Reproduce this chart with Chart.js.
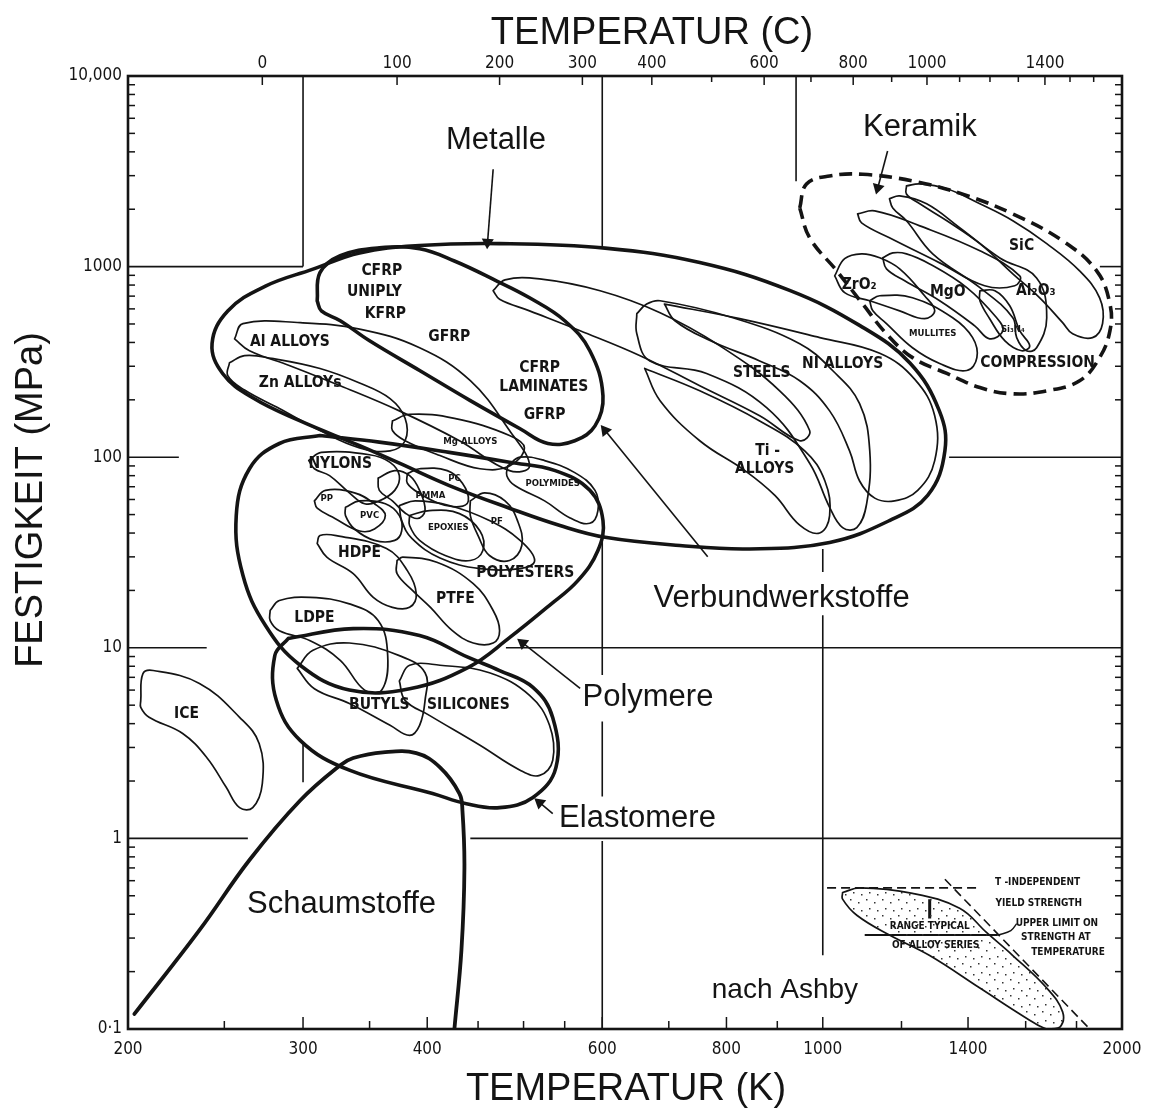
<!DOCTYPE html>
<html>
<head>
<meta charset="utf-8">
<script src="https://cdn.jsdelivr.net/npm/chart.js@4.4.1/dist/chart.umd.min.js"></script>
<style>
  html, body { margin: 0; padding: 0; background: #fff; }
</style>
</head>
<body>
<canvas id="ashbyChart" width="1157" height="1115"></canvas>
<script>
// Axis ticks
const kelvinTicks = [200, 300, 400, 600, 800, 1000, 1400, 2000];
const kelvinMinor = [250, 350, 450, 500, 550, 700, 900, 1200, 1600, 1800];
const celsiusTicks = [0, 100, 200, 300, 400, 600, 800, 1000, 1400];
const celsiusMinor = [500, 700, 900, 1100, 1200, 1300, 1500, 1600];
const strengthTicks = [0.1, 1, 10, 100, 1000, 10000];
const strengthLabels = ['0·1', '1', '10', '100', '1000', '10,000'];

// Envelopes: [temperature K, strength MPa]
const metalsEnvelope = [[307, 970], [342, 1180], [393, 1290], [473, 1320], [604, 1250], [752, 1050], [926, 750], [1090, 490], [1223, 313], [1310, 175], [1327, 108], [1275, 63], [1167, 46.5], [1016, 35.7], [844, 33], [718, 34.4], [604, 38], [544, 43.8], [484, 54], [421, 71], [375, 93], [342, 115], [298, 155], [267, 205], [249, 275], [243, 395], [252, 585], [275, 790]];
const compositesEnvelope = [[310, 660], [312, 930], [327, 1140], [358, 1255], [393, 1240], [426, 1070], [470, 840], [507, 686], [550, 520], [583, 362], [601, 210], [590, 146], [563, 122], [529, 118], [496, 141], [442, 198], [393, 285], [350, 408], [327, 520], [313, 586]];
const polymersEnvelope = [[312, 130], [358, 120], [421, 106], [484, 94], [538, 85], [583, 67], [601, 46.5], [594, 32.4], [567, 22.5], [531, 16.7], [484, 11.3], [440, 7.9], [384, 6.1], [334, 6.0], [298, 8.1], [275, 13.1], [261, 24], [257, 49.4], [265, 87], [284, 118]];
const elastomersEnvelope = [[290, 11.2], [337, 12.6], [393, 11.6], [440, 8.9], [473, 7.6], [511, 6.2], [535, 4.3], [539, 2.36], [511, 1.64], [473, 1.45], [438, 1.52], [405, 1.72], [334, 2.28], [298, 3.27], [282, 5.3], [281, 9.1]];
const foamsCurve = [[203, 0.12], [236, 0.33], [265, 0.77], [298, 1.58], [327, 2.42], [337, 2.64], [361, 2.83], [390, 2.8], [412, 2.36], [431, 1.72], [434, 1.4], [436, 0.7], [433, 0.26], [426, 0.1]];
const ceramicsEnvelope = [[948, 2030], [963, 2715], [1016, 2990], [1097, 3050], [1231, 2815], [1383, 2400], [1553, 1890], [1743, 1365], [1886, 950], [1945, 636], [1945, 461], [1899, 333], [1813, 252], [1680, 223], [1553, 215], [1439, 232], [1333, 275], [1231, 333], [1159, 444], [1097, 636], [1033, 950], [970, 1416]];

// Ceramic families
const sicOutline = [[1214, 2650], [1252, 2715], [1333, 2560], [1439, 2135], [1553, 1740], [1680, 1320], [1813, 950], [1899, 686], [1912, 503], [1868, 424], [1784, 444], [1743, 508], [1653, 686], [1553, 917], [1439, 1320], [1333, 1740], [1252, 2135], [1214, 2400]];
const aluminaOutline = [[1167, 2270], [1195, 2350], [1272, 2135], [1373, 1600], [1507, 1110], [1641, 872], [1680, 539], [1641, 375], [1603, 362], [1567, 424], [1553, 539], [1439, 776], [1290, 1167], [1214, 1740], [1176, 2030]];
const ceramicNeedle = [[1084, 1890], [1128, 1960], [1252, 1636], [1439, 1210], [1578, 894], [1560, 793], [1455, 793], [1311, 1046], [1167, 1416], [1094, 1695]];
const zirconiaOutline = [[1028, 894], [1052, 1100], [1094, 1167], [1141, 1112], [1195, 973], [1266, 703], [1296, 586], [1266, 533], [1195, 586], [1115, 662], [1052, 730]];
const magnesiaOutline = [[1149, 1112], [1176, 1180], [1214, 1167], [1281, 1033], [1396, 776], [1496, 539], [1518, 461], [1472, 418], [1422, 489], [1311, 662], [1209, 842], [1159, 973]];
const mulliteOutline = [[1115, 662], [1141, 703], [1231, 686], [1351, 539], [1415, 424], [1429, 333], [1396, 285], [1311, 310], [1231, 375], [1159, 502], [1123, 586]];
const siliconNitrideOutline = [[1439, 747], [1490, 747], [1542, 623], [1578, 461], [1615, 384], [1585, 362], [1525, 408], [1472, 533], [1439, 662]];

// Metals and composites
const alAlloysOutline = [[256, 418], [261, 502], [298, 508], [342, 470], [393, 375], [442, 252], [484, 138], [507, 90], [484, 85], [431, 122], [375, 175], [327, 237], [291, 302], [265, 362]];
const znAlloysOutline = [[253, 313], [262, 341], [279, 330], [312, 292], [342, 245], [367, 203], [380, 160], [380, 122], [367, 108], [342, 112], [312, 138], [284, 180], [262, 225], [252, 268]];
const mgAlloysOutline = [[369, 155], [384, 168], [426, 160], [484, 130], [501, 112], [484, 90], [452, 87], [412, 102], [380, 122], [369, 138]];
const polyimidesOutline = [[482, 90], [496, 100], [525, 96], [563, 83], [590, 67], [594, 52.5], [583, 45], [557, 48], [525, 59], [490, 71], [481, 80]];
const steelsOutline = [[650, 566], [665, 636], [686, 662], [812, 539], [948, 394], [1023, 285], [1089, 191], [1115, 108], [1107, 57], [1082, 42.7], [1047, 42.7], [1016, 54.6], [970, 93], [878, 182], [764, 275], [670, 320], [650, 444]];
const niAlloysOutline = [[693, 636], [825, 533], [993, 424], [1141, 351], [1237, 257], [1296, 165], [1296, 96], [1246, 67], [1181, 59], [1128, 61], [1089, 75], [1064, 108], [1016, 175], [948, 252], [864, 320], [771, 408], [710, 520]];
const tiAlloysOutline = [[662, 292], [752, 223], [864, 155], [959, 108], [1005, 75], [1016, 49.4], [993, 40], [948, 44], [895, 63], [835, 85], [752, 122], [686, 198]];
const gfrpOutline = [[466, 747], [479, 852], [519, 862], [597, 747], [686, 573], [788, 384], [905, 223], [970, 138], [948, 122], [864, 165], [752, 237], [655, 341], [570, 461], [507, 586], [473, 675]];

// Polymers, elastomers, ice
const nylonsOutline = [[304, 96], [313, 106], [350, 103], [367, 94], [375, 80], [371, 67], [358, 59], [346, 57], [334, 65], [319, 80], [308, 87]];
const pcOutline = [[382, 82], [393, 87], [419, 85], [434, 73], [440, 59], [431, 55], [412, 57], [393, 64.5], [382, 73]];
const pmmaOutline = [[357, 77.6], [371, 85], [384, 80], [393, 67], [398, 52.5], [391, 47.7], [380, 51], [369, 59], [358, 67]];
const ppOutline = [[308, 59], [316, 67], [338, 65], [354, 57], [363, 49.4], [354, 42], [342, 41], [323, 47.7], [310, 54]];
const pvcOutline = [[331, 54.6], [342, 59], [363, 57], [375, 49.4], [377, 41], [371, 36.6], [354, 36.6], [338, 42], [331, 49.4]];
const epoxiesOutline = [[384, 49.4], [402, 52.5], [431, 50.6], [452, 41], [455, 32.4], [442, 28.7], [417, 30.5], [393, 36.6], [384, 43.8]];
const pfOutline = [[442, 59], [457, 65], [479, 59], [493, 46.5], [498, 34.4], [484, 28.7], [462, 30.5], [450, 38.8], [442, 49.4]];
const polyestersOutline = [[375, 55.8], [389, 59], [421, 55.8], [462, 46.5], [496, 36.6], [513, 28.7], [496, 26], [452, 26], [412, 29.6], [386, 37.5], [377, 46.5]];
const hdpeOutline = [[310, 35.3], [312, 38.8], [324, 38.8], [364, 33.2], [382, 25.4], [390, 19.2], [384, 16.3], [369, 16.3], [353, 18.4], [337, 24.5], [317, 29.9]];
const ptfeOutline = [[373, 28.7], [378, 29.9], [409, 28.1], [445, 21.7], [466, 15.7], [473, 12.3], [466, 10.6], [445, 10.6], [424, 12.3], [403, 16.3], [387, 19.9], [373, 24.5]];
const ldpeOutline = [[278, 15.7], [284, 17.7], [305, 18.4], [334, 17], [357, 13.9], [365, 9.1], [360, 6.0], [346, 6.0], [327, 8.6], [305, 10.9], [284, 12.3], [278, 13.9]];
const butylsOutline = [[296, 7.8], [307, 9.7], [334, 10.6], [375, 9.1], [398, 7.4], [398, 5.3], [393, 3.92], [384, 3.47], [367, 3.92], [334, 5.1], [308, 6.1]];
const siliconesOutline = [[375, 6.7], [384, 8.1], [412, 8.1], [462, 7.4], [507, 5.63], [531, 3.92], [535, 2.57], [519, 2.14], [496, 2.28], [452, 3.08], [402, 4.42], [380, 5.3]];
const iceOutline = [[206, 5.3], [207, 7.3], [212, 7.6], [236, 6.5], [259, 4.32], [271, 3.15], [273, 1.94], [267, 1.45], [259, 1.45], [251, 1.86], [240, 2.66], [227, 3.55], [210, 4.32], [206, 4.87]];

// Key diagram (lower right)
const insetRange = [[1047, 0.52], [1089, 0.55], [1231, 0.515], [1373, 0.43], [1462, 0.32], [1553, 0.243], [1680, 0.164], [1743, 0.123], [1731, 0.102], [1680, 0.1], [1603, 0.114], [1439, 0.164], [1281, 0.243], [1167, 0.311], [1082, 0.395], [1047, 0.48]];
const insetYield = [[1010, 0.55], [1440, 0.55]];
const insetUpperLimit = [[1327, 0.61], [1856, 0.1]];
const insetMarker = [[1281, 0.48], [1281, 0.38]];
const insetUnderline = [[1102, 0.311], [1500, 0.311]];
const insetPointer = [[1500, 0.311], [1546, 0.328], [1567, 0.357]];

// Partial grid lines
const gridSegments = [
    [[300, 10000], [300, 1000]], [[200, 1000], [300, 1000]], [[600, 10000], [600, 1250]],
    [[940, 10000], [940, 2800]], [[1900, 1000], [2000, 1000]], [[200, 100], [225, 100]],
    [[1340, 100], [2000, 100]], [[200, 10], [240, 10]], [[480, 10], [2000, 10]],
    [[200, 1], [264, 1]], [[442, 1], [2000, 1]], [[300, 3.2], [300, 1.97]],
    [[600, 37], [600, 7.2]], [[600, 4.1], [600, 1.66]], [[600, 0.97], [600, 0.1]],
    [[1000, 33], [1000, 25]], [[1000, 14.8], [1000, 0.244]]
];

// Arrows: from, to, head rotation
const arrows = [
    [[466, 3240], [460, 1340], 184],
    [[1162, 4040], [1136, 2590], 195],
    [[766, 30], [604, 138], 321],
    [[570, 6.13], [499, 10.6], 308],
    [[535, 1.35], [519, 1.54], 310]
];

// Text labels: [text, K, MPa]
const regionLabels = [['Metalle', 469, 4570], ['Keramik', 1252, 5400], ['Verbundwerkstoffe', 909, 18.1], ['Polymere', 667, 5.5], ['Elastomere', 651, 1.27], ['Schaumstoffe', 328, 0.45]];
const creditLabels = [['nach Ashby', 916, 0.16]];
const materialLabels = [
    ['CFRP', 360, 950], ['UNIPLY', 354, 740], ['KFRP', 363, 566], ['GFRP', 421, 429],
    ['CFRP', 519, 294], ['LAMINATES', 524, 234], ['GFRP', 525, 167],
    ['Al ALLOYS', 291, 404], ['Zn ALLOYs', 298, 245],
    ['STEELS', 868, 275], ['NI ALLOYS', 1047, 309], ['Ti -', 880, 108], ['ALLOYS', 874, 87],
    ['NYLONS', 327, 92.7], ['HDPE', 342, 31.3], ['POLYESTERS', 502, 24.7], ['PTFE', 427, 18], ['LDPE', 308, 14.4],
    ['BUTYLS', 358, 5], ['SILICONES', 440, 5], ['ICE', 229, 4.5],
    ['SiC', 1585, 1285], ['Al₂O₃', 1638, 747], ['ZrO₂', 1088, 800], ['MgO', 1336, 738], ['COMPRESSION', 1645, 313]
];
const smallLabels = [['Mg ALLOYS', 442, 121], ['PC', 426, 77.6], ['PMMA', 403, 63], ['PP', 317, 61], ['PVC', 350, 49.4], ['EPOXIES', 420, 42.7], ['PF', 470, 46], ['POLYMIDES', 535, 72.7], ['MULLITES', 1290, 444], ['Si₃N₄', 1553, 470]];
const insetLabels = [['T -INDEPENDENT', 1645, 0.59], ['YIELD STRENGTH', 1649, 0.455], ['RANGE TYPICAL', 1281, 0.345], ['OF ALLOY SERIES', 1299, 0.274], ['UPPER LIMIT ON', 1720, 0.357], ['STRENGTH AT', 1716, 0.302], ['TEMPERATURE', 1765, 0.252]];

const INK = '#141414';

function toXY(points) {
    return points.map(p => ({ x: p[0], y: p[1] }));
}

function outline(points, width, extra) {
    return Object.assign({
        data: toXY(points.concat([points[0]])),
        borderColor: INK,
        borderWidth: width,
        tension: 0.4,
        pointRadius: 0,
        fill: false,
        borderCapStyle: 'round',
        borderJoinStyle: 'round'
    }, extra || {});
}

function segment(points, width, extra) {
    return Object.assign({
        data: toXY(points),
        borderColor: INK,
        borderWidth: width,
        tension: 0,
        pointRadius: 0,
        fill: false
    }, extra || {});
}

function dotPattern() {
    const c = document.createElement('canvas');
    c.width = 16; c.height = 16;
    const g = c.getContext('2d');
    g.fillStyle = '#333';
    [[2, 3], [10, 6], [5, 12], [13, 14]].forEach(d => g.fillRect(d[0], d[1], 1.5, 1.5));
    return g.createPattern(c, 'repeat');
}

const datasets = [];
gridSegments.forEach(s => datasets.push(segment(s, 1.6)));

// thin family outlines
[sicOutline, aluminaOutline, ceramicNeedle, zirconiaOutline, magnesiaOutline, mulliteOutline, siliconNitrideOutline,
 alAlloysOutline, znAlloysOutline, mgAlloysOutline, polyimidesOutline, steelsOutline, niAlloysOutline, tiAlloysOutline, gfrpOutline,
 nylonsOutline, pcOutline, pmmaOutline, ppOutline, pvcOutline, epoxiesOutline, pfOutline, polyestersOutline,
 hdpeOutline, ptfeOutline, ldpeOutline, butylsOutline, siliconesOutline, iceOutline
].forEach(o => datasets.push(outline(o, 1.7)));

// thick class envelopes
[metalsEnvelope, compositesEnvelope, polymersEnvelope, elastomersEnvelope].forEach(o => datasets.push(outline(o, 3.6)));
datasets.push(outline(ceramicsEnvelope, 3.6, { borderDash: [13, 7], borderCapStyle: 'butt' }));
datasets.push(segment(foamsCurve, 3.8, { tension: 0.4, borderCapStyle: 'round' }));

// key diagram
datasets.push(outline(insetRange, 1.7, { fill: 'shape', backgroundColor: dotPattern() }));
datasets.push(segment(insetYield, 1.6, { borderDash: [9, 5] }));
datasets.push(segment(insetUpperLimit, 1.6, { borderDash: [9, 5] }));
datasets.push(segment(insetMarker, 3));
datasets.push(segment(insetUnderline, 2));
datasets.push(segment(insetPointer, 1.4, { tension: 0.4 }));

arrows.forEach(a => datasets.push(segment([a[0], a[1]], 1.6, {
    pointRadius: [0, 7],
    pointStyle: 'triangle',
    pointRotation: [0, a[2]],
    pointBackgroundColor: INK,
    pointBorderColor: INK,
    pointBorderWidth: 0
})));

// frame, inward ticks, texts
const decorPlugin = {
    id: 'decor',
    afterDatasetsDraw(chart) {
        const { ctx, chartArea: a, scales } = chart;
        const x = scales.x, y = scales.y;
        ctx.save();
        ctx.strokeStyle = INK;
        ctx.lineWidth = 2.6;
        ctx.strokeRect(a.left, a.top, a.right - a.left, a.bottom - a.top);

        ctx.lineWidth = 1.5;
        const tick = (x1, y1, x2, y2) => { ctx.beginPath(); ctx.moveTo(x1, y1); ctx.lineTo(x2, y2); ctx.stroke(); };
        kelvinTicks.slice(1, -1).forEach(v => { const p = x.getPixelForValue(v); tick(p, a.bottom, p, a.bottom - 12); });
        kelvinMinor.forEach(v => { const p = x.getPixelForValue(v); tick(p, a.bottom, p, a.bottom - 8); });
        celsiusTicks.forEach(c => { const p = x.getPixelForValue(c + 273); tick(p, a.top, p, a.top + 9); });
        celsiusMinor.forEach(c => { const p = x.getPixelForValue(c + 273); tick(p, a.top, p, a.top + 6); });
        strengthTicks.slice(0, -1).forEach(d => {
            for (let m = 2; m <= 9; m++) {
                const p = y.getPixelForValue(d * m);
                tick(a.left, p, a.left + 7, p);
                tick(a.right, p, a.right - 7, p);
            }
        });

        ctx.fillStyle = INK;
        ctx.textAlign = 'center';
        ctx.textBaseline = 'middle';
        const put = (list, font) => {
            ctx.font = font;
            list.forEach(l => ctx.fillText(l[0], x.getPixelForValue(l[1]), y.getPixelForValue(l[2])));
        };
        put(regionLabels, '31px "Liberation Sans", Arial, sans-serif');
        put(creditLabels, '28px "Liberation Sans", Arial, sans-serif');
        put(materialLabels, 'bold 15.5px "DejaVu Sans Condensed", "DejaVu Sans", sans-serif');
        put(smallLabels, 'bold 9.5px "DejaVu Sans Condensed", "DejaVu Sans", sans-serif');
        put(insetLabels, 'bold 10px "DejaVu Sans Condensed", "DejaVu Sans", sans-serif');

        // axis titles
        ctx.font = '38px "Liberation Sans", Arial, sans-serif';
        ctx.fillText('TEMPERATUR (C)', 652, 34);
        ctx.fillText('TEMPERATUR (K)', 626, 1090);
        ctx.translate(32, 500);
        ctx.rotate(-Math.PI / 2);
        ctx.fillText('FESTIGKEIT (MPa)', 0, 0);
        ctx.restore();
    }
};

const tickFont = { family: '"DejaVu Sans Condensed", "DejaVu Sans", sans-serif', size: 17 };

new Chart(document.getElementById('ashbyChart'), {
    type: 'line',
    data: { datasets: datasets },
    options: {
        responsive: false,
        animation: false,
        devicePixelRatio: 1,
        layout: { padding: { left: 0, right: 35, top: 0, bottom: 0 } },
        plugins: {
            legend: { display: false },
            tooltip: { enabled: false }
        },
        scales: {
            x: {
                type: 'logarithmic',
                position: 'bottom',
                min: 200,
                max: 2000,
                afterBuildTicks: s => { s.ticks = kelvinTicks.map(v => ({ value: v })); },
                afterFit: s => { s.height = 86; },
                grid: { display: false, drawTicks: false },
                border: { display: false },
                ticks: { autoSkip: false, maxRotation: 0, padding: 10, color: INK, font: tickFont, callback: v => String(v) }
            },
            xC: {
                type: 'logarithmic',
                position: 'top',
                min: 200,
                max: 2000,
                afterBuildTicks: s => { s.ticks = celsiusTicks.map(c => ({ value: c + 273 })); },
                afterFit: s => { s.height = 76; },
                grid: { display: false, drawTicks: false },
                border: { display: false },
                ticks: { autoSkip: false, maxRotation: 0, padding: 2, color: INK, font: tickFont, callback: v => String(Math.round(v - 273)) }
            },
            y: {
                type: 'logarithmic',
                min: 0.1,
                max: 10000,
                afterBuildTicks: s => { s.ticks = strengthTicks.map(v => ({ value: v })); },
                afterFit: s => { s.width = 128; },
                grid: { display: false, drawTicks: false },
                border: { display: false },
                ticks: { autoSkip: false, padding: 6, color: INK, font: tickFont, callback: (v, i) => strengthLabels[i] }
            }
        }
    },
    plugins: [decorPlugin]
});
</script>
</body>
</html>
